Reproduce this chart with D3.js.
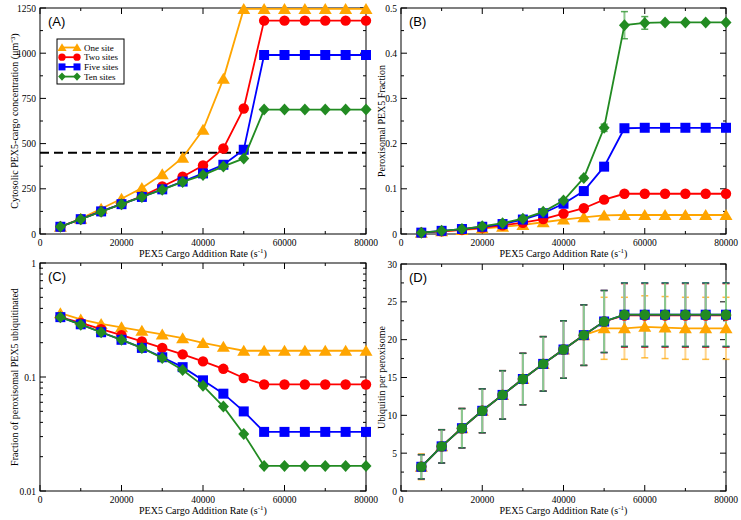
<!DOCTYPE html>
<html><head><meta charset="utf-8">
<script src="https://cdn.jsdelivr.net/npm/d3@7"></script>
<style>
body{margin:0;background:#fff;}
svg{display:block;}
.tick-label{font-family:"Liberation Serif","Times New Roman",serif;font-size:9.5px;fill:#000;}
.axis-title{font-family:"Liberation Serif","Times New Roman",serif;font-size:10px;fill:#000;}
.panel-label{font-family:"Liberation Sans",Arial,sans-serif;font-size:13px;fill:#000;}
.legend-text{font-family:"Liberation Serif","Times New Roman",serif;font-size:9px;fill:#000;}
</style>
</head><body>
<svg id="chart" width="741" height="520"></svg>
<script>
// ---------------- DATA ----------------
const rates = [5000,10000,15000,20000,25000,30000,35000,40000,45000,50000,55000,60000,65000,70000,75000,80000];
const seriesNames = ["One site","Two sites","Five sites","Ten sites"];
const seriesColors = ["#FFA500","#FF0000","#0000FF","#228B22"];
const errStemColors = ["#FFD48A","#FF9A9A","#9A9AFF","#8CC98C"];
const seriesShapes = ["triangle","circle","square","diamond"];

// (A) Cytosolic PEX5-cargo concentration
const cytoOne  = [40,85,140,195,254,330,422,576,858,1245,1245,1245,1245,1245,1245,1245];
const cytoTwo  = [40,82,125,165,208,263,317,379,473,694,1180,1180,1180,1180,1180,1180];
const cytoFive = [40,82,125,165,205,247,290,335,383,466,990,990,990,990,990,990];
const cytoTen  = [40,82,123,165,205,245,288,326,374,418,688,688,688,688,688,688];
const cytoThreshold = 450;

// (B) Peroxisomal PEX5 fraction
const fracOne  = [0.003,0.006,0.009,0.012,0.016,0.020,0.026,0.032,0.037,0.041,0.042,0.042,0.042,0.042,0.042,0.042];
const fracTwo  = [0.003,0.006,0.009,0.014,0.019,0.025,0.033,0.045,0.057,0.076,0.089,0.089,0.089,0.089,0.089,0.089];
const fracFive = [0.003,0.007,0.011,0.016,0.022,0.032,0.046,0.067,0.095,0.149,0.234,0.235,0.235,0.235,0.235,0.235];
const fracTen  = [0.003,0.007,0.011,0.017,0.024,0.034,0.049,0.074,0.124,0.235,0.462,0.467,0.468,0.468,0.468,0.468];
const fracTenErr = [0,0,0,0,0,0.001,0.002,0.003,0.004,0.008,0.030,0.014,0.002,0.002,0.002,0.002];

// (C) Fraction of peroxisomal PEX5 ubiquitinated
const ubFracOne  = [0.363,0.320,0.292,0.273,0.254,0.236,0.219,0.199,0.184,0.170,0.170,0.170,0.170,0.170,0.170,0.170];
const ubFracTwo  = [0.335,0.298,0.263,0.233,0.205,0.180,0.158,0.137,0.118,0.098,0.086,0.086,0.086,0.086,0.086,0.086];
const ubFracFive = [0.335,0.290,0.247,0.212,0.180,0.149,0.122,0.0935,0.0714,0.0499,0.033,0.033,0.033,0.033,0.033,0.033];
const ubFracTen  = [0.335,0.288,0.247,0.212,0.180,0.147,0.115,0.084,0.055,0.0316,0.0166,0.0166,0.0166,0.0166,0.0166,0.0166];

// (D) Ubiquitin per peroxisome
const ubOne  = [3.2,5.9,8.3,10.6,12.7,14.8,16.8,18.7,20.6,21.5,21.5,21.7,21.6,21.5,21.5,21.5];
const ubTwo  = [3.2,5.9,8.3,10.6,12.7,14.8,16.8,18.7,20.6,22.4,23.2,23.2,23.2,23.2,23.2,23.2];
const ubFive = [3.2,5.9,8.3,10.6,12.7,14.8,16.8,18.7,20.6,22.4,23.3,23.3,23.3,23.3,23.3,23.3];
const ubTen  = [3.2,5.9,8.3,10.6,12.7,14.8,16.8,18.7,20.6,22.4,23.3,23.3,23.3,23.3,23.3,23.3];
const ubOneErr  = [1.7,2.2,2.6,2.9,3.2,3.4,3.6,3.8,4.0,4.1,4.1,4.1,4.1,4.1,4.1,4.1];
const ubTwoErr  = [1.6,2.2,2.6,2.9,3.2,3.4,3.6,3.8,4.0,4.1,4.2,4.2,4.2,4.2,4.2,4.2];
const ubFiveErr = [1.6,2.2,2.6,2.9,3.2,3.4,3.6,3.8,4.0,4.1,4.2,4.2,4.2,4.2,4.2,4.2];
const ubTenErr  = [1.6,2.2,2.6,2.9,3.2,3.4,3.6,3.8,4.0,4.1,4.2,4.2,4.2,4.2,4.2,4.2];

const xTicks = [0,20000,40000,60000,80000];
const xMinor = [10000,30000,50000,70000];

// ---------------- DRAW ----------------
const svg = d3.select("#chart");

const panels = [
  {label:"(A)", left:40, right:366, top:8, bottom:234, type:"linear", domain:[0,1250],
   ticks:[0,250,500,750,1000,1250], minor:[125,375,625,875,1125], fmt:d=>String(d),
   series:[cytoOne,cytoTwo,cytoFive,cytoTen], errs:null, shapes:seriesShapes,
   ytitle:"Cytosolic PEX5-cargo concentration (\u03BCm\u207B\u00B3)", ytitleX:14, legend:true, hline:cytoThreshold},
  {label:"(B)", left:401, right:726, top:8, bottom:234, type:"linear", domain:[0,0.5],
   ticks:[0,0.1,0.2,0.3,0.4,0.5], minor:[0.05,0.15,0.25,0.35,0.45], fmt:d=>d===0?"0":String(+d.toFixed(1)),
   series:[fracOne,fracTwo,fracFive,fracTen], errs:[null,null,null,fracTenErr], shapes:seriesShapes,
   ytitle:"Peroxisomal PEX5 Fraction", ytitleX:381},
  {label:"(C)", left:40, right:366, top:263, bottom:491, type:"log", domain:[0.01,1],
   ticks:[0.01,0.1,1], minor:[0.02,0.03,0.04,0.05,0.06,0.07,0.08,0.09,0.2,0.3,0.4,0.5,0.6,0.7,0.8,0.9], fmt:d=>String(d),
   series:[ubFracOne,ubFracTwo,ubFracFive,ubFracTen], errs:null, shapes:seriesShapes,
   ytitle:"Fraction of peroxisomal PEX5 ubiquitinated", ytitleX:14},
  {label:"(D)", left:401, right:726, top:264, bottom:491, type:"linear", domain:[0,30],
   ticks:[0,5,10,15,20,25,30], minor:[2.5,7.5,12.5,17.5,22.5,27.5], fmt:d=>String(d),
   series:[ubOne,ubTwo,ubFive,ubTen], errs:[ubOneErr,ubTwoErr,ubFiveErr,ubTenErr],
   shapes:["triangle","circle","square","circle"],
   ytitle:"Ubiquitin per peroxisome", ytitleX:381}
];

function markerPath(shape){
  if(shape==="triangle") return "M0,-6L6.5,5L-6.5,5Z";
  if(shape==="circle") return d3.symbol(d3.symbolCircle, 85)();
  if(shape==="square") return "M-5,-5H5V5H-5Z";
  return "M0,-6L5.5,0L0,6L-5.5,0Z";
}

panels.forEach(p=>{
  const x = d3.scaleLinear().domain([0,80000]).range([p.left,p.right]);
  const y = (p.type==="log"? d3.scaleLog() : d3.scaleLinear()).domain(p.domain).range([p.bottom,p.top]);
  const g = svg.append("g");

  g.append("rect").attr("x",p.left).attr("y",p.top).attr("width",p.right-p.left).attr("height",p.bottom-p.top)
    .attr("fill","none").attr("stroke","#000").attr("stroke-width",1);

  const tk = g.append("g").attr("stroke","#000").attr("stroke-width",1);
  const MAJ=6, MIN=3;
  xTicks.forEach(v=>{
    const px=x(v);
    tk.append("line").attr("x1",px).attr("x2",px).attr("y1",p.bottom).attr("y2",p.bottom-MAJ);
    tk.append("line").attr("x1",px).attr("x2",px).attr("y1",p.top).attr("y2",p.top+MAJ);
  });
  xMinor.forEach(v=>{
    const px=x(v);
    tk.append("line").attr("x1",px).attr("x2",px).attr("y1",p.bottom).attr("y2",p.bottom-MIN);
    tk.append("line").attr("x1",px).attr("x2",px).attr("y1",p.top).attr("y2",p.top+MIN);
  });
  p.ticks.forEach(v=>{
    const py=y(v);
    tk.append("line").attr("x1",p.left).attr("x2",p.left+MAJ).attr("y1",py).attr("y2",py);
    tk.append("line").attr("x1",p.right).attr("x2",p.right-MAJ).attr("y1",py).attr("y2",py);
  });
  p.minor.forEach(v=>{
    const py=y(v);
    tk.append("line").attr("x1",p.left).attr("x2",p.left+MIN).attr("y1",py).attr("y2",py);
    tk.append("line").attr("x1",p.right).attr("x2",p.right-MIN).attr("y1",py).attr("y2",py);
  });

  xTicks.forEach(v=>{
    g.append("text").attr("class","tick-label").attr("x",x(v)).attr("y",p.bottom+12)
      .attr("text-anchor","middle").text(String(v));
  });
  p.ticks.forEach(v=>{
    g.append("text").attr("class","tick-label").attr("x",p.left-4).attr("y",y(v)+3.5)
      .attr("text-anchor","end").text(p.fmt(v));
  });

  const xt = g.append("text").attr("class","axis-title").attr("x",(p.left+p.right)/2).attr("y",p.bottom+23)
    .attr("text-anchor","middle");
  xt.append("tspan").text("PEX5 Cargo Addition Rate (s");
  xt.append("tspan").attr("dy",-4).attr("font-size","7px").text("-1");
  xt.append("tspan").attr("dy",4).text(")");
  g.append("text").attr("class","axis-title")
    .attr("transform",`translate(${p.ytitleX},${(p.top+p.bottom)/2}) rotate(-90)`)
    .attr("text-anchor","middle").attr("dy","0.35em").text(p.ytitle);

  g.append("text").attr("class","panel-label").attr("x",p.left+8).attr("y",p.top+18).text(p.label);

  if(p.hline!==undefined){
    g.append("line").attr("x1",p.left).attr("x2",p.right).attr("y1",y(p.hline)).attr("y2",y(p.hline))
      .attr("stroke","#000").attr("stroke-width",2).attr("stroke-dasharray","9,5");
  }

  const line = d3.line().x((d,i)=>x(rates[i])).y(d=>y(d));
  // error bars first (all series), so lines/markers lie on top
  if(p.errs){
    p.series.forEach((vals,si)=>{
      const e=p.errs[si]; if(!e) return;
      const eg=g.append("g");
      vals.forEach((v,i)=>{
        if(!e[i]) return;
        const px=x(rates[i]), y1=y(v+e[i]), y0=y(v-e[i]);
        eg.append("line").attr("x1",px).attr("x2",px).attr("y1",y0).attr("y2",y1)
          .attr("stroke",errStemColors[si]).attr("stroke-width",2);
        [y0,y1].forEach(yy=>eg.append("line").attr("x1",px-3.5).attr("x2",px+3.5).attr("y1",yy).attr("y2",yy)
          .attr("stroke",seriesColors[si]).attr("stroke-opacity",0.75).attr("stroke-width",1.5));
      });
    });
  }
  p.series.forEach((vals,si)=>{
    const col = seriesColors[si];
    g.append("path").datum(vals).attr("d",line).attr("fill","none").attr("stroke",col).attr("stroke-width",1.8);
    g.append("g").selectAll("path").data(vals).join("path")
      .attr("d",markerPath(p.shapes[si]))
      .attr("transform",(d,i)=>`translate(${x(rates[i])},${y(d)})`)
      .attr("fill",col);
  });

  if(p.legend){
    const lg = g.append("g");
    lg.append("rect").attr("x",57).attr("y",39).attr("width",67).attr("height",45)
      .attr("fill","#fff").attr("stroke","#000").attr("stroke-width",1);
    seriesNames.forEach((n,si)=>{
      const yy = 47.5 + si*9.7;
      lg.append("line").attr("x1",62).attr("x2",77).attr("y1",yy).attr("y2",yy)
        .attr("stroke",seriesColors[si]).attr("stroke-width",1.8);
      [62,77].forEach(xx=>lg.append("path").attr("d",markerPath(seriesShapes[si]))
        .attr("transform",`translate(${xx},${yy}) scale(0.7)`).attr("fill",seriesColors[si]));
      lg.append("text").attr("class","legend-text").attr("x",84).attr("y",yy+3.2).text(n);
    });
  }
});
</script>
</body></html>
